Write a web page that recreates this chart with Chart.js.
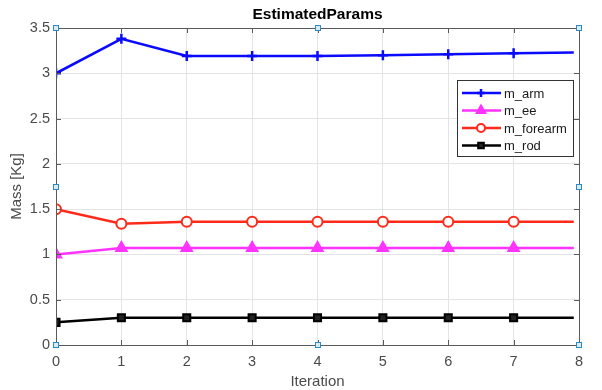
<!DOCTYPE html>
<html>
<head>
<meta charset="utf-8">
<script src="https://cdn.jsdelivr.net/npm/chart.js"></script>
<style>
	html, body { margin: 0; padding: 0; background: #fff; }
	#wrap { width: 602px; height: 390px; }
</style>
</head>
<body>
<div id="wrap"><canvas id="params_chart"></canvas></div>
<script>
// iterations (last one has no marker, the line just runs on a bit)
var iterations = [0, 1, 2, 3, 4, 5, 6, 7, 7.92];
var m_arm      = [3.00, 3.38, 3.19, 3.19, 3.19, 3.20, 3.21, 3.22, 3.23];
var m_ee       = [1.00, 1.07, 1.07, 1.07, 1.07, 1.07, 1.07, 1.07, 1.07];
var m_forearm  = [1.50, 1.34, 1.36, 1.36, 1.36, 1.36, 1.36, 1.36, 1.36];
var m_rod      = [0.25, 0.30, 0.30, 0.30, 0.30, 0.30, 0.30, 0.30, 0.30];
var seriesNames = ['m_arm', 'm_ee', 'm_forearm', 'm_rod'];
var chartTitle = 'EstimatedParams';
var xLabel = 'Iteration';
var yLabel = 'Mass [Kg]';

var FONT = '"Liberation Sans", Arial, Helvetica, sans-serif';

function toPoints(vals) {
	return vals.map(function (v, i) { return { x: iterations[i], y: v }; });
}
function radii(r) {
	return iterations.map(function (x, i) { return i < iterations.length - 1 ? r : 0; });
}

var styles = [
	{ color: '#0a0aff', pointStyle: 'cross', radius: 5, fill: '#0a0aff', bw: 2.5 },
	{ color: '#ff33ff', pointStyle: 'triangle', radius: 6, fill: '#ff33ff', bw: 2 },
	{ color: '#ff2a1a', pointStyle: 'circle', radius: 5, fill: '#ffffff', bw: 2 },
	{ color: '#000000', pointStyle: 'rect', radius: 5, fill: '#222222', bw: 2 }
];
var allData = [m_arm, m_ee, m_forearm, m_rod];

var datasets = allData.map(function (vals, k) {
	var s = styles[k];
	return {
		label: seriesNames[k],
		data: toPoints(vals),
		borderColor: s.color,
		backgroundColor: s.fill,
		borderWidth: 2.5,
		pointStyle: s.pointStyle,
		pointRadius: radii(s.radius),
		pointBorderColor: s.color,
		pointBackgroundColor: s.fill,
		pointBorderWidth: s.bw,
		tension: 0
	};
});

var matlabAxes = {
	id: 'matlabAxes',
	afterDraw: function (chart) {
		var ctx = chart.ctx;
		var a = chart.chartArea;
		var xs = chart.scales.x, ys = chart.scales.y;
		ctx.save();

		// box + inward ticks
		ctx.strokeStyle = '#5a5a5a';
		ctx.lineWidth = 1;
		ctx.strokeRect(a.left + 0.5, a.top + 0.5, a.right - a.left, a.bottom - a.top);
		ctx.beginPath();
		xs.ticks.forEach(function (t) {
			var px = Math.round(xs.getPixelForValue(t.value)) + 0.5;
			ctx.moveTo(px, a.bottom); ctx.lineTo(px, a.bottom - 5);
			ctx.moveTo(px, a.top); ctx.lineTo(px, a.top + 5);
		});
		ys.ticks.forEach(function (t) {
			var py = Math.round(ys.getPixelForValue(t.value)) + 0.5;
			ctx.moveTo(a.left, py); ctx.lineTo(a.left + 5, py);
			ctx.moveTo(a.right, py); ctx.lineTo(a.right - 5, py);
		});
		ctx.stroke();

		// title
		ctx.fillStyle = '#000';
		ctx.font = 'bold 15.5px ' + FONT;
		ctx.textAlign = 'center';
		ctx.textBaseline = 'middle';
		ctx.fillText(chartTitle, (a.left + a.right) / 2, 15);

		// legend
		var lx = 457, ly = 80, lw = 116, lh = 76;
		ctx.fillStyle = '#fff';
		ctx.fillRect(lx, ly, lw, lh);
		ctx.strokeStyle = '#333';
		ctx.strokeRect(lx + 0.5, ly + 0.5, lw, lh);
		ctx.font = '13px ' + FONT;
		ctx.textAlign = 'left';
		ctx.textBaseline = 'middle';
		seriesNames.forEach(function (name, k) {
			var s = styles[k];
			var y = ly + 13 + k * 17.5;
			ctx.strokeStyle = s.color;
			ctx.lineWidth = 2.5;
			ctx.beginPath();
			ctx.moveTo(lx + 5, y); ctx.lineTo(lx + 44, y);
			ctx.stroke();
			ctx.fillStyle = s.fill;
			ctx.strokeStyle = s.color;
			ctx.lineWidth = s.bw;
			Chart.helpers.drawPoint(ctx, { pointStyle: s.pointStyle, radius: s.radius - 1, rotation: 0, borderWidth: s.bw }, lx + 24, y);
			ctx.fillStyle = '#1a1a1a';
			ctx.fillText(name, lx + 47, y + 1);
		});

		// selection handles
		var hx = [a.left, (a.left + a.right) / 2, a.right];
		var hy = [a.top, (a.top + a.bottom) / 2, a.bottom];
		ctx.lineWidth = 1;
		ctx.strokeStyle = '#2f8ac4';
		ctx.fillStyle = '#d8ecf8';
		hx.forEach(function (x, i) {
			hy.forEach(function (y, j) {
				if (i === 1 && j === 1) return;
				var px = Math.round(x), py = Math.round(y);
				ctx.fillRect(px - 3, py - 3, 6, 6);
				ctx.strokeRect(px - 2.5, py - 2.5, 5, 5);
			});
		});
		ctx.restore();
	}
};

const params_chart = document.getElementById('params_chart');
var ParamsChart = new Chart(params_chart, {
	type: 'line',
	data: { datasets: datasets },
	options: {
		responsive: true,
		maintainAspectRatio: false,
		animation: false,
		layout: { padding: { top: 28, right: 23, left: 0, bottom: 0 } },
		scales: {
			x: {
				type: 'linear',
				min: 0,
				max: 8,
				afterFit: function (scale) { scale.height = 45; },
				ticks: { stepSize: 1, color: '#4a4a4a', padding: 8, font: { family: FONT, size: 14.5 } },
				grid: { color: '#e4e4e4', drawTicks: false },
				border: { display: false },
				title: { display: true, text: xLabel, color: '#4a4a4a', padding: { top: 0, bottom: 0 }, font: { family: FONT, size: 15, lineHeight: 1.1 } }
			},
			y: {
				min: 0,
				max: 3.5,
				afterFit: function (scale) { scale.width = 56; },
				ticks: {
					stepSize: 0.5, color: '#4a4a4a', padding: 6, font: { family: FONT, size: 14.5 },
					callback: function (v) { return String(v); }
				},
				grid: { color: '#e4e4e4', drawTicks: false },
				border: { display: false },
				title: { display: true, text: yLabel, color: '#4a4a4a', padding: { top: 8, bottom: 0 }, font: { family: FONT, size: 15 } }
			}
		},
		plugins: {
			legend: { display: false },
			title: { display: false },
			tooltip: { enabled: false }
		}
	},
	plugins: [matlabAxes]
});
</script>
</body>
</html>
